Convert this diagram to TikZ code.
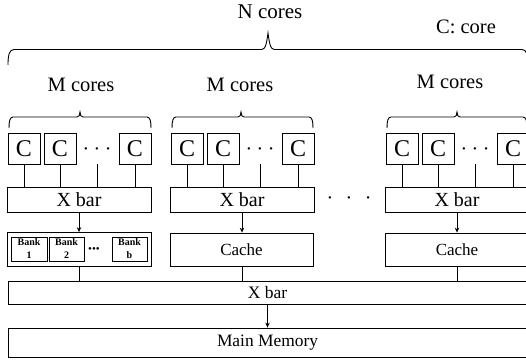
\documentclass[tikz,border=0pt]{standalone}
\usepackage{fontspec}
\setmainfont{Liberation Serif}
\usetikzlibrary{arrows.meta}
\begin{document}
\begin{tikzpicture}[x=1pt,y=-1pt,line width=0.8pt,
  box/.style={draw,inner sep=0pt,minimum width=#1},
  cbox/.style={draw,inner sep=0pt,minimum width=32,minimum height=31,font=\fontsize{24}{24}\selectfont},
  bank/.style={draw,inner sep=0pt,minimum height=24,align=center,font=\fontsize{10}{13}\selectfont\bfseries},
  lbl/.style={inner sep=0pt,anchor=base,font=\fontsize{20.5}{24}\selectfont},
  dots/.style={inner sep=0pt,font=\fontsize{20}{24}\selectfont},
  arr/.style={-{Stealth[length=5pt,width=4.5pt]}},
  brace/.style={line width=0.9pt}]
\useasboundingbox (0,0) rectangle (526,362);
\clip (0,0) rectangle (526,362);

% top labels
\node[lbl,font=\fontsize{21}{24}\selectfont] (ncores) at (270,18) {N cores};
\node[lbl] (ccore) at (466,33) {C: core};
\node[lbl] (m1) at (81,91) {M cores};
\node[lbl] (m2) at (240,91) {M cores};
\node[lbl] (m3) at (450,88) {M cores};

% big brace
\draw[brace] (8,65) .. controls (8,56) and (9,49.5) .. (14,49.5) -- (262,49.5)
  .. controls (266,49.5) and (267,40) .. (268,33)
  .. controls (269,40) and (270,49.5) .. (274,49.5) -- (522,49.5)
  .. controls (527,49.5) and (528,56) .. (528,65);

% small braces
\foreach \a/\t/\b in {9/80/151,172/241/313,387/457/527}{
  \draw[brace] (\a,128) .. controls (\a,121) and (\a+1,117) .. (\a+4,117) -- (\t-3,117)
    .. controls (\t-1,117) and (\t,115) .. (\t,112)
    .. controls (\t,115) and (\t+1,117) .. (\t+3,117) -- (\b-4,117)
    .. controls (\b-1,117) and (\b,121) .. (\b,128);
}

% lower xbar and main memory
\node[box=519,minimum height=23,font=\fontsize{17.5}{20}\selectfont] (xbar) at (267.5,292.5) {X bar};
\node[box=519,minimum height=29,font=\fontsize{17.4}{20}\selectfont] (mm) at (267.5,342.5) {Main Memory};
\draw[arr] (xbar.south) -- (mm.north);

% memory nodes of the columns
\node[box=144,minimum height=34] (mem1) at (79,249.5) {};
\node[bank,minimum width=36] (b1) at (29,249) {Bank\\1};
\node[bank,minimum width=35] (b2) at (66.5,249) {Bank\\2};
\node[bank,minimum width=35] (bb) at (129.5,249) {Bank\\b};
\node[inner sep=0pt,font=\fontsize{11}{13}\selectfont] (bdots) at (94,250) {•••};
\node[box=143,minimum height=33,font=\fontsize{17}{20}\selectfont] (mem2) at (241.5,249.5) {Cache};
\node[box=144,minimum height=33,font=\fontsize{17}{20}\selectfont] (mem3) at (457,249.5) {Cache};

% columns
\foreach \L/\i in {7/1,170/2,385/3}{
  \node[cbox] (ca\i) at (\L+17,148.5) {C};
  \node[cbox] (cb\i) at (\L+53,148.5) {C};
  \node[cbox] (cc\i) at (\L+128,148.5) {C};
  \node[dots] (cd\i) at (\L+90,152) {·\hspace{4.5pt}·\hspace{4.5pt}·};
  \node[box=144,minimum height=25,font=\fontsize{20}{24}\selectfont] (xb\i) at (\L+72,199.5) {X bar};
  \draw (ca\i.south) -- (ca\i.south |- xb\i.north);
  \draw (cb\i.south) -- (cb\i.south |- xb\i.north);
  \draw (cd\i |- cc\i.south) -- (cd\i |- xb\i.north);
  \draw (cc\i.south) -- (cc\i.south |- xb\i.north);
  \draw[arr] (xb\i.south) -- (xb\i.south |- mem\i.north);
  \draw (xb\i.south |- mem\i.south) -- (xb\i.south |- xbar.north);
}

% dots between columns
\node[dots] (coldots) at (349,201) {·\hspace{12.5pt}·\hspace{12.5pt}·};
\end{tikzpicture}
\end{document}
